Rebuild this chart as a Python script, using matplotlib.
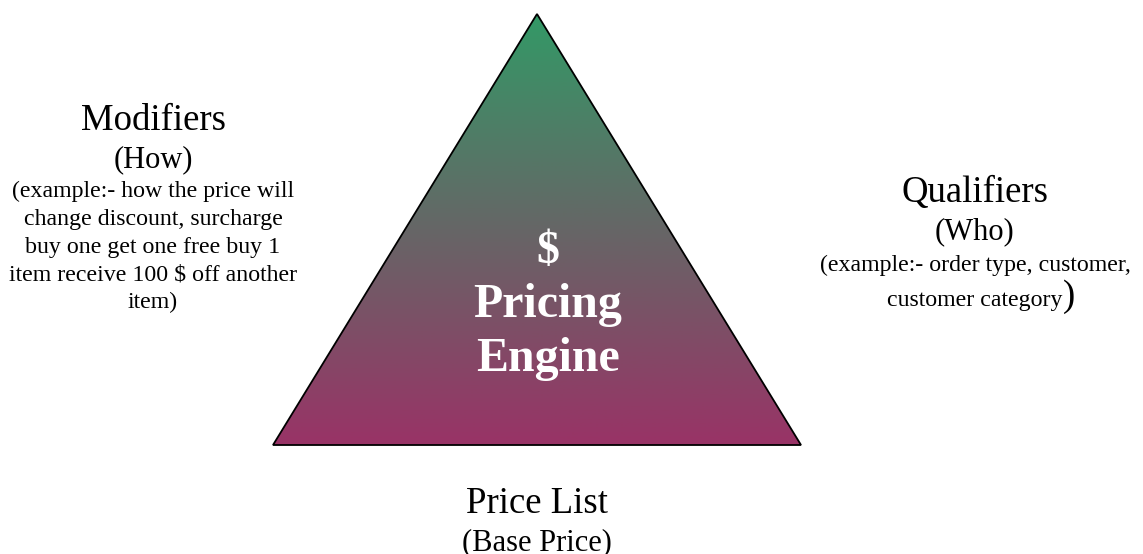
import numpy as np
import matplotlib
matplotlib.use("Agg")
import matplotlib.pyplot as plt
from matplotlib.colors import LinearSegmentedColormap
from matplotlib.patches import Polygon

plt.rcParams['font.family'] = ['Liberation Serif', 'DejaVu Serif']

# triangle corners (pixel space of the figure)
tri_x = [537, 801, 273]
tri_y = [14, 445, 445]
grad_colors = ['#339966', '#993366']

center_lines = ['$', 'Pricing', 'Engine']
modifiers_title = 'Modifiers'
modifiers_sub = '(How)'
modifiers_lines = ['(example:- how the price will', 'change discount, surcharge',
                   'buy one get one free buy 1', 'item receive 100 $ off another', 'item)']
qualifiers_title = 'Qualifiers'
qualifiers_sub = '(Who)'
qualifiers_lines = ['(example:- order type, customer,', 'customer category']
pricelist_title = 'Price List'
pricelist_sub = '(Base Price)'

fig = plt.figure(figsize=(11.43, 5.54), dpi=100)
ax = fig.add_axes([0, 0, 1, 1])
ax.axis('off')

# gradient clipped to the triangle
cmap = LinearSegmentedColormap.from_list('grad', grad_colors)
grad = np.linspace(0, 1, 256).reshape(-1, 1)
im = ax.imshow(grad, cmap=cmap, aspect='auto',
               extent=[min(tri_x), max(tri_x), max(tri_y), min(tri_y)], zorder=1)
tri = Polygon(list(zip(tri_x, tri_y)), closed=True, facecolor='none',
              edgecolor='black', linewidth=1.3, joinstyle='miter', zorder=2)
ax.add_patch(tri)
im.set_clip_path(tri)
ax.set_xlim(0, 1143)
ax.set_ylim(554, 0)

# center label
ax.text(548, 263, center_lines[0], ha='center', va='baseline', color='white',
        fontsize=33, fontweight='bold', zorder=3)
for i, s in enumerate(center_lines[1:]):
    ax.text(548, 317 + i * 54, s, ha='center', va='baseline', color='white',
            fontsize=34.5, fontweight='bold', zorder=3)

# Modifiers block
ax.text(153, 130, modifiers_title, ha='center', va='baseline', fontsize=26.5)
ax.text(153, 167, modifiers_sub, ha='center', va='baseline', fontsize=22)
for i, s in enumerate(modifiers_lines):
    ax.text(153, 197 + i * 27.8, s, ha='center', va='baseline', fontsize=17.2)

# Qualifiers block
ax.text(975, 202, qualifiers_title, ha='center', va='baseline', fontsize=26.5)
ax.text(975, 239, qualifiers_sub, ha='center', va='baseline', fontsize=22)
ax.text(975, 271, qualifiers_lines[0], ha='center', va='baseline', fontsize=17.2)
ax.text(975, 306, qualifiers_lines[1], ha='center', va='baseline', fontsize=17.2)
ax.text(1063, 306, ')', ha='left', va='baseline', fontsize=26.5)

# Price List block
ax.text(537, 513, pricelist_title, ha='center', va='baseline', fontsize=26.5)
ax.text(537, 550, pricelist_sub, ha='center', va='baseline', fontsize=22)

fig.savefig('out.png', dpi=100)
